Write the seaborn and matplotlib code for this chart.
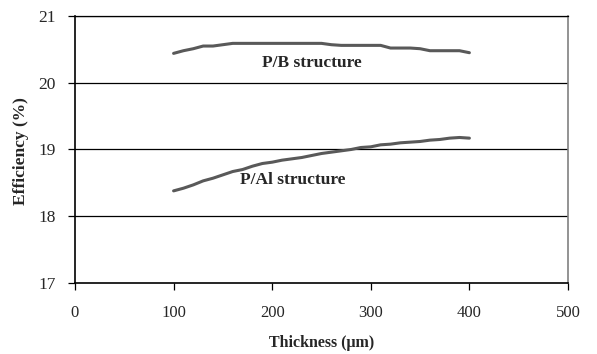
import numpy as np
import pandas as pd
import matplotlib
matplotlib.use("Agg")
import matplotlib.pyplot as plt
import seaborn as sns

thickness = [100, 110, 120, 130, 140, 150, 160, 170, 180, 190, 200, 210, 220, 230, 240,
             250, 260, 270, 280, 290, 300, 310, 320, 330, 340, 350, 360, 370, 380, 390, 400]
eff_pb = [20.44, 20.48, 20.51, 20.55, 20.55, 20.57, 20.59, 20.59, 20.59, 20.59, 20.59,
          20.59, 20.59, 20.59, 20.59, 20.59, 20.57, 20.56, 20.56, 20.56, 20.56, 20.56,
          20.52, 20.52, 20.52, 20.51, 20.48, 20.48, 20.48, 20.48, 20.45]
eff_pal = [18.38, 18.42, 18.47, 18.53, 18.57, 18.62, 18.67, 18.70, 18.75, 18.79, 18.81,
           18.84, 18.86, 18.88, 18.91, 18.94, 18.96, 18.98, 19.00, 19.03, 19.04, 19.07,
           19.08, 19.10, 19.11, 19.12, 19.14, 19.15, 19.17, 19.18, 19.17]
series_names = ["P/B structure", "P/Al structure"]
xticks = [0, 100, 200, 300, 400, 500]
yticks = [17, 18, 19, 20, 21]

df = pd.DataFrame({
    "Thickness": thickness * 2,
    "Efficiency": eff_pb + eff_pal,
    "Series": [series_names[0]] * len(thickness) + [series_names[1]] * len(thickness),
})

sns.set_style("white")
plt.rcParams["font.family"] = ["Liberation Serif", "DejaVu Serif"]

fig = plt.figure(figsize=(5.97, 3.54), dpi=100)
ax = fig.add_axes([0.1256, 0.2006, 0.9514 - 0.1256, 0.9548 - 0.2006])

sns.lineplot(data=df, x="Thickness", y="Efficiency", hue="Series",
             palette=["#595959", "#595959"], linewidth=2.2, legend=False, ax=ax)

ax.set_xlim(0, 500)
ax.set_ylim(17, 21)
ax.set_xticks(xticks)
ax.set_yticks(yticks)
ax.set_xticklabels([str(v) for v in xticks], fontsize=12)
ax.set_yticklabels([str(v) for v in yticks], fontsize=12.5)
for y in yticks[1:]:
    ax.axhline(y, color="black", linewidth=0.9, zorder=0)

ax.tick_params(axis="x", direction="out", length=5, width=0.9, color="black",
               bottom=True, pad=11)
ax.tick_params(axis="y", direction="out", length=5, width=0.9, color="black",
               left=True, pad=9)
for side in ["left", "bottom"]:
    ax.spines[side].set_color("black")
    ax.spines[side].set_linewidth(1.2)
ax.spines["top"].set_color("black")
ax.spines["top"].set_linewidth(0.9)
ax.spines["right"].set_color("#808080")
ax.spines["right"].set_linewidth(1.2)

ax.set_xlabel("Thickness (\u03bcm)", fontsize=11.5, fontweight="bold", labelpad=10)
ax.set_ylabel("Efficiency (%)", fontsize=12.5, fontweight="bold")
ax.yaxis.set_label_coords(-0.093, 0.494)

ax.text(240, 20.30, "P/B structure", fontsize=12.5, fontweight="bold",
        ha="center", va="center")
ax.text(221, 18.54, "P/Al structure", fontsize=12.5, fontweight="bold",
        ha="center", va="center")

fig.savefig("out.png", dpi=100)
